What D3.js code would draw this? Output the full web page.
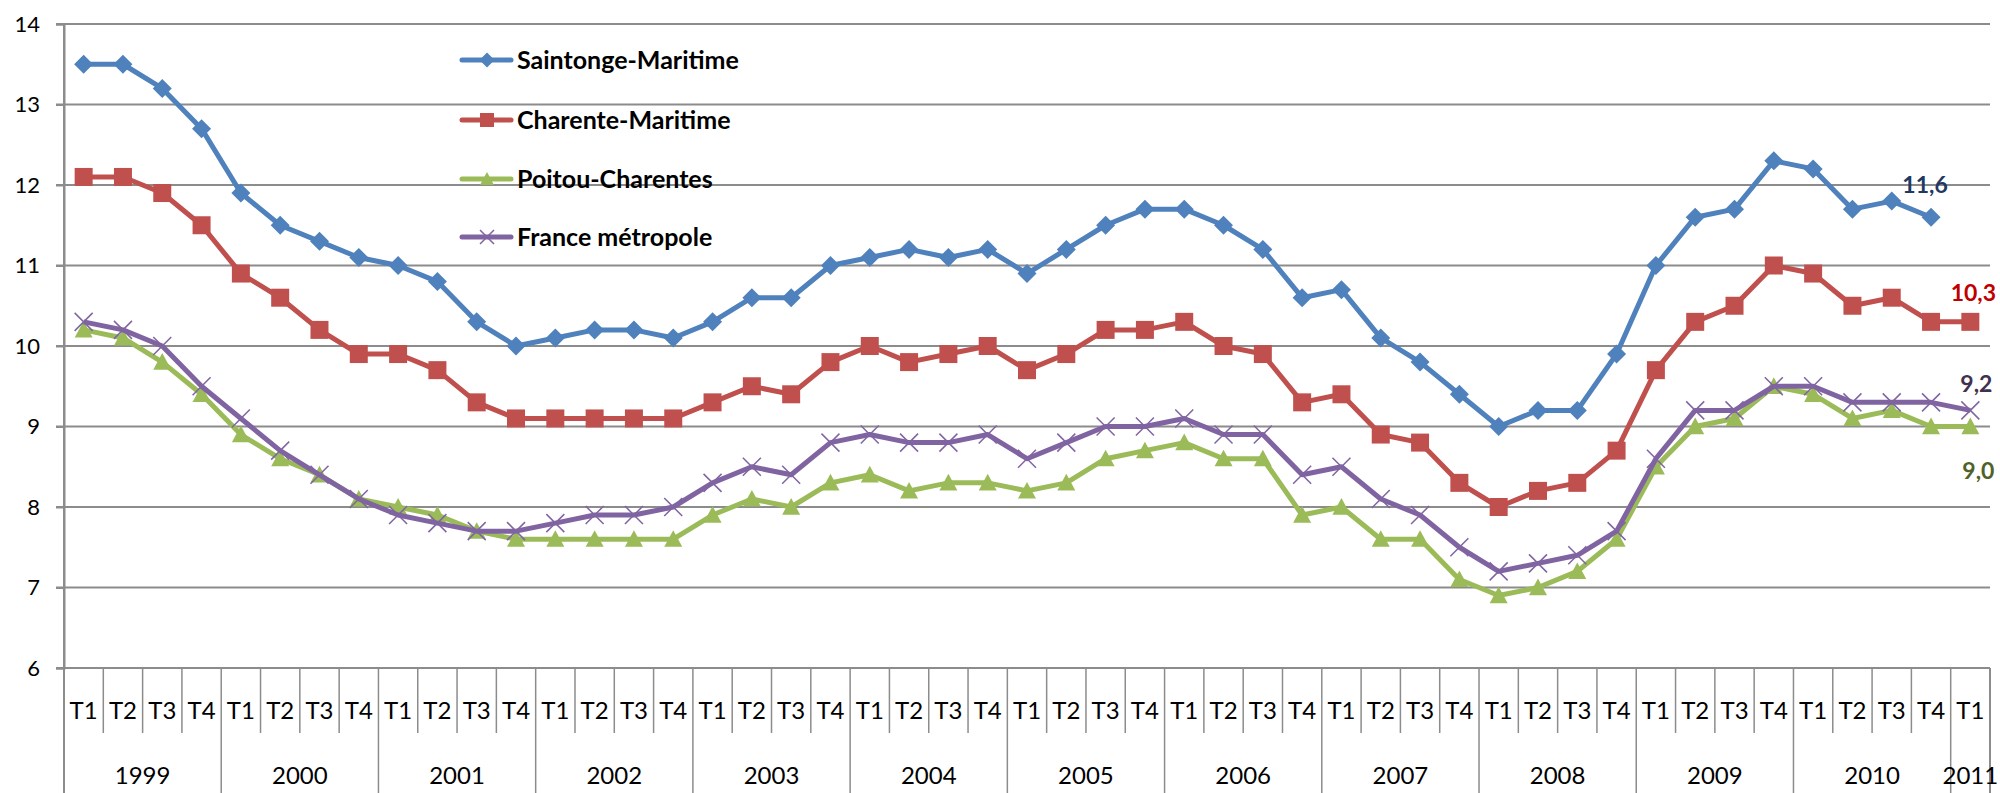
<!DOCTYPE html>
<html>
<head>
<meta charset="utf-8">
<script src="https://cdn.jsdelivr.net/npm/d3@7"></script>
<style>
  body { margin: 0; background: #fff; }
  svg { display: block; font-family: Lato, "DejaVu Sans Condensed", sans-serif; }
</style>
</head>
<body>
<div id="chart"></div>
<script>
// quarters 1999 T1 -> 2011 T1
const years = ["1999","2000","2001","2002","2003","2004","2005","2006","2007","2008","2009","2010","2011"];
const quarters = ["T1","T2","T3","T4"];
const yTicks = [6, 7, 8, 9, 10, 11, 12, 13, 14];

const seriesNames = ["Saintonge-Maritime", "Charente-Maritime", "Poitou-Charentes", "France métropole"];

const saintonge = [13.5,13.5,13.2,12.7, 11.9,11.5,11.3,11.1, 11.0,10.8,10.3,10.0, 10.1,10.2,10.2,10.1,
  10.3,10.6,10.6,11.0, 11.1,11.2,11.1,11.2, 10.9,11.2,11.5,11.7, 11.7,11.5,11.2,10.6,
  10.7,10.1,9.8,9.4, 9.0,9.2,9.2,9.9, 11.0,11.6,11.7,12.3, 12.2,11.7,11.8,11.6];
const charente = [12.1,12.1,11.9,11.5, 10.9,10.6,10.2,9.9, 9.9,9.7,9.3,9.1, 9.1,9.1,9.1,9.1,
  9.3,9.5,9.4,9.8, 10.0,9.8,9.9,10.0, 9.7,9.9,10.2,10.2, 10.3,10.0,9.9,9.3,
  9.4,8.9,8.8,8.3, 8.0,8.2,8.3,8.7, 9.7,10.3,10.5,11.0, 10.9,10.5,10.6,10.3, 10.3];
const poitou = [10.2,10.1,9.8,9.4, 8.9,8.6,8.4,8.1, 8.0,7.9,7.7,7.6, 7.6,7.6,7.6,7.6,
  7.9,8.1,8.0,8.3, 8.4,8.2,8.3,8.3, 8.2,8.3,8.6,8.7, 8.8,8.6,8.6,7.9,
  8.0,7.6,7.6,7.1, 6.9,7.0,7.2,7.6, 8.5,9.0,9.1,9.5, 9.4,9.1,9.2,9.0, 9.0];
const france = [10.3,10.2,10.0,9.5, 9.1,8.7,8.4,8.1, 7.9,7.8,7.7,7.7, 7.8,7.9,7.9,8.0,
  8.3,8.5,8.4,8.8, 8.9,8.8,8.8,8.9, 8.6,8.8,9.0,9.0, 9.1,8.9,8.9,8.4,
  8.5,8.1,7.9,7.5, 7.2,7.3,7.4,7.7, 8.6,9.2,9.2,9.5, 9.5,9.3,9.3,9.3, 9.2];

// end-of-series labels
const endLabels = ["11,6", "10,3", "9,0", "9,2"];

// category keys built from years x quarters (49 quarters)
let categories = [];
years.forEach(y => quarters.forEach(q => categories.push({ key: y + "-" + q, year: y, q: q })));
categories = categories.slice(0, 49);

const series = [saintonge, charente, poitou, france];

const styles = [
  { color: "#4F81BD", marker: "diamond", labelColor: "#1F3864", ldx: -6, ldy: -32 },
  { color: "#C0504D", marker: "square", labelColor: "#C00000", ldx: 3, ldy: -29 },
  { color: "#9BBB59", marker: "triangle", labelColor: "#4F6228", ldx: 8, ldy: 44 },
  { color: "#8064A2", marker: "x", labelColor: "#3F3151", ldx: 6, ldy: -26 }
];

const W = 2000, H = 793;
const margin = { left: 64, right: 1990, top: 24, bottom: 668 };

const svg = d3.select("#chart").append("svg")
  .attr("width", W).attr("height", H);

const x = d3.scaleBand().domain(categories.map(d => d.key)).range([margin.left, margin.right]).padding(0);
const y = d3.scaleLinear().domain([6, 14]).range([margin.bottom, margin.top]);
const cx = k => x(k) + x.bandwidth() / 2;

const grid = "#8C8C8C";

// gridlines
svg.append("g").selectAll("line")
  .data(yTicks.filter(t => t > 6))
  .join("line")
  .attr("x1", margin.left - 8).attr("x2", margin.right)
  .attr("y1", d => y(d)).attr("y2", d => y(d))
  .attr("stroke", grid).attr("stroke-width", 2);

// y axis
const yAxis = d3.axisLeft(y).tickValues(yTicks).tickSize(8).tickPadding(16).tickFormat(d3.format("d"));
const gy = svg.append("g").attr("transform", `translate(${margin.left},0)`).call(yAxis);
gy.select(".domain").attr("stroke", grid).attr("stroke-width", 2);
gy.selectAll(".tick line").attr("stroke", grid).attr("stroke-width", 2);
gy.selectAll(".tick text").attr("font-size", 22).attr("fill", "#000")
  .attr("font-family", "Lato, sans-serif");

// x axis line
svg.append("line").attr("x1", margin.left - 8).attr("x2", margin.right)
  .attr("y1", margin.bottom).attr("y2", margin.bottom)
  .attr("stroke", grid).attr("stroke-width", 2);

// quarter separators
svg.append("g").selectAll("line")
  .data(categories.slice(1))
  .join("line")
  .attr("x1", d => x(d.key)).attr("x2", d => x(d.key))
  .attr("y1", margin.bottom).attr("y2", d => d.q === "T1" ? H : 733)
  .attr("stroke", grid).attr("stroke-width", 1.5);

// outer separators
[margin.left, margin.right].forEach(px => {
  svg.append("line").attr("x1", px).attr("x2", px)
    .attr("y1", px === margin.left ? margin.top : margin.bottom).attr("y2", H)
    .attr("stroke", grid).attr("stroke-width", 2);
});

// quarter labels
svg.append("g").selectAll("text")
  .data(categories)
  .join("text")
  .attr("x", d => cx(d.key)).attr("y", 711)
  .attr("dy", "0.35em")
  .attr("text-anchor", "middle")
  .attr("font-size", 24)
  .text(d => d.q);

// year labels
svg.append("g").selectAll("text")
  .data(years)
  .join("text")
  .attr("x", d => {
    const ks = categories.filter(c => c.year === d).map(c => c.key);
    return (x(ks[0]) + x(ks[ks.length - 1]) + x.bandwidth()) / 2;
  })
  .attr("y", 776)
  .attr("dy", "0.35em")
  .attr("text-anchor", "middle")
  .attr("font-size", 24)
  .text(d => d);

// marker shapes
function markerPath(type, s) {
  const h = s / 2;
  if (type === "diamond") return `M0,${-h}L${h},0L0,${h}L${-h},0Z`;
  if (type === "square") return `M${-h},${-h}H${h}V${h}H${-h}Z`;
  if (type === "triangle") return `M0,${-h}L${h},${h * 0.85}L${-h},${h * 0.85}Z`;
  return `M${-h},${-h}L${h},${h}M${-h},${h}L${h},${-h}`;
}

const line = d3.line().x(d => cx(d.key)).y(d => y(d.v));

series.forEach((vals, i) => {
  const st = styles[i];
  const pts = vals.map((v, j) => ({ key: categories[j].key, v: v }));
  const g = svg.append("g");
  g.append("path").datum(pts)
    .attr("d", line)
    .attr("fill", "none")
    .attr("stroke", st.color)
    .attr("stroke-width", 5)
    .attr("stroke-linejoin", "round");
  g.selectAll("path.m")
    .data(pts)
    .join("path")
    .attr("class", "m")
    .attr("transform", d => `translate(${cx(d.key)},${y(d.v)})`)
    .attr("d", markerPath(st.marker, st.marker === "diamond" ? 19 : 18))
    .attr("fill", st.marker === "x" ? "none" : st.color)
    .attr("stroke", st.color)
    .attr("stroke-width", st.marker === "x" ? 1.5 : 0);

  const last = pts[pts.length - 1];
  svg.append("text")
    .attr("x", cx(last.key) + st.ldx)
    .attr("y", y(last.v) + st.ldy)
    .attr("dy", "0.35em")
    .attr("text-anchor", "middle")
    .attr("font-size", 23)
    .attr("font-weight", "bold")
    .attr("fill", st.labelColor)
    .text(endLabels[i]);
});

// legend
const legend = svg.append("g").selectAll("g")
  .data(seriesNames)
  .join("g")
  .attr("transform", (d, i) => `translate(0,${[60, 120, 179, 237][i]})`);

legend.append("line")
  .attr("x1", 462).attr("x2", 511).attr("y1", 0).attr("y2", 0)
  .attr("stroke", (d, i) => styles[i].color)
  .attr("stroke-width", 5)
  .attr("stroke-linecap", "round");

legend.append("path")
  .attr("transform", "translate(487,0)")
  .attr("d", (d, i) => markerPath(styles[i].marker, styles[i].marker === "diamond" ? 15 : 14))
  .attr("fill", (d, i) => styles[i].marker === "x" ? "none" : styles[i].color)
  .attr("stroke", (d, i) => styles[i].color)
  .attr("stroke-width", (d, i) => styles[i].marker === "x" ? 1.5 : 0);

legend.append("text")
  .attr("x", 517).attr("y", 0)
  .attr("dy", "0.35em")
  .attr("font-size", 25)
  .attr("font-weight", "bold")
  .attr("fill", "#000")
  .text(d => d);
</script>
</body>
</html>
